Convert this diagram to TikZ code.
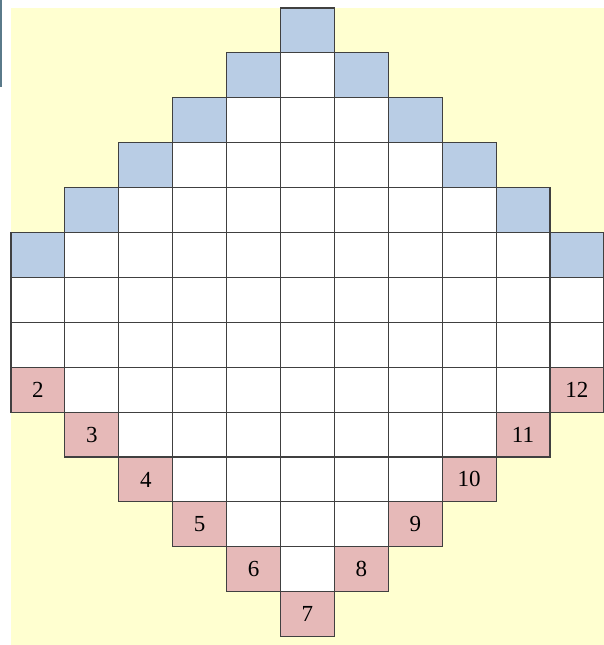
\documentclass[tikz,border=0pt]{standalone}
\usepackage{fontspec}
\setmainfont{Liberation Serif}
\definecolor{bgc}{HTML}{FFFFD0}
\definecolor{bluec}{HTML}{B9CDE5}
\definecolor{pinkc}{HTML}{E6B9B8}
\definecolor{gridc}{HTML}{404040}
\definecolor{barc}{HTML}{5A7A8A}
\begin{document}
\begin{tikzpicture}[x=1pt,y=-1pt,
  cell/.style={draw=gridc, line width=1.1pt, minimum width=53.9pt, minimum height=44.9pt,
    inner sep=0pt, font=\fontsize{23}{23}\selectfont}]
\useasboundingbox (0,0) rectangle (604,645);
\fill[white] (0,0) rectangle (604,645);
\fill[bgc] (11,8) rectangle (604,645);
\draw[barc, line width=1.5pt] (0.8,0) -- (0.8,87);
\foreach \r in {0,...,13}{
  \pgfmathtruncatemacro\a{\r<6 ? 5-\r : (\r<8 ? 0 : \r-8)}
  \pgfmathtruncatemacro\b{10-\a}
  \foreach \c in {\a,...,\b}{
    \pgfmathtruncatemacro\edge{((\c==\a) || (\c==\b)) && ((\r<6) || (\r>7)) ? 1 : 0}
    \ifnum\edge=1
      \ifnum\r<6
        \node[cell, fill=bluec] (c-\r-\c) at ({11+53.9*(\c+0.5)},{8+44.9*(\r+0.5)}) {};
      \else
        \pgfmathtruncatemacro\lab{\c==\a ? \r-6 : 20-\r}
        \node[cell, fill=pinkc] (c-\r-\c) at ({11+53.9*(\c+0.5)},{8+44.9*(\r+0.5)}) {\lab};
      \fi
    \else
      \node[cell, fill=white] (c-\r-\c) at ({11+53.9*(\c+0.5)},{8+44.9*(\r+0.5)}) {};
    \fi
  }
}
\end{tikzpicture}
\end{document}
